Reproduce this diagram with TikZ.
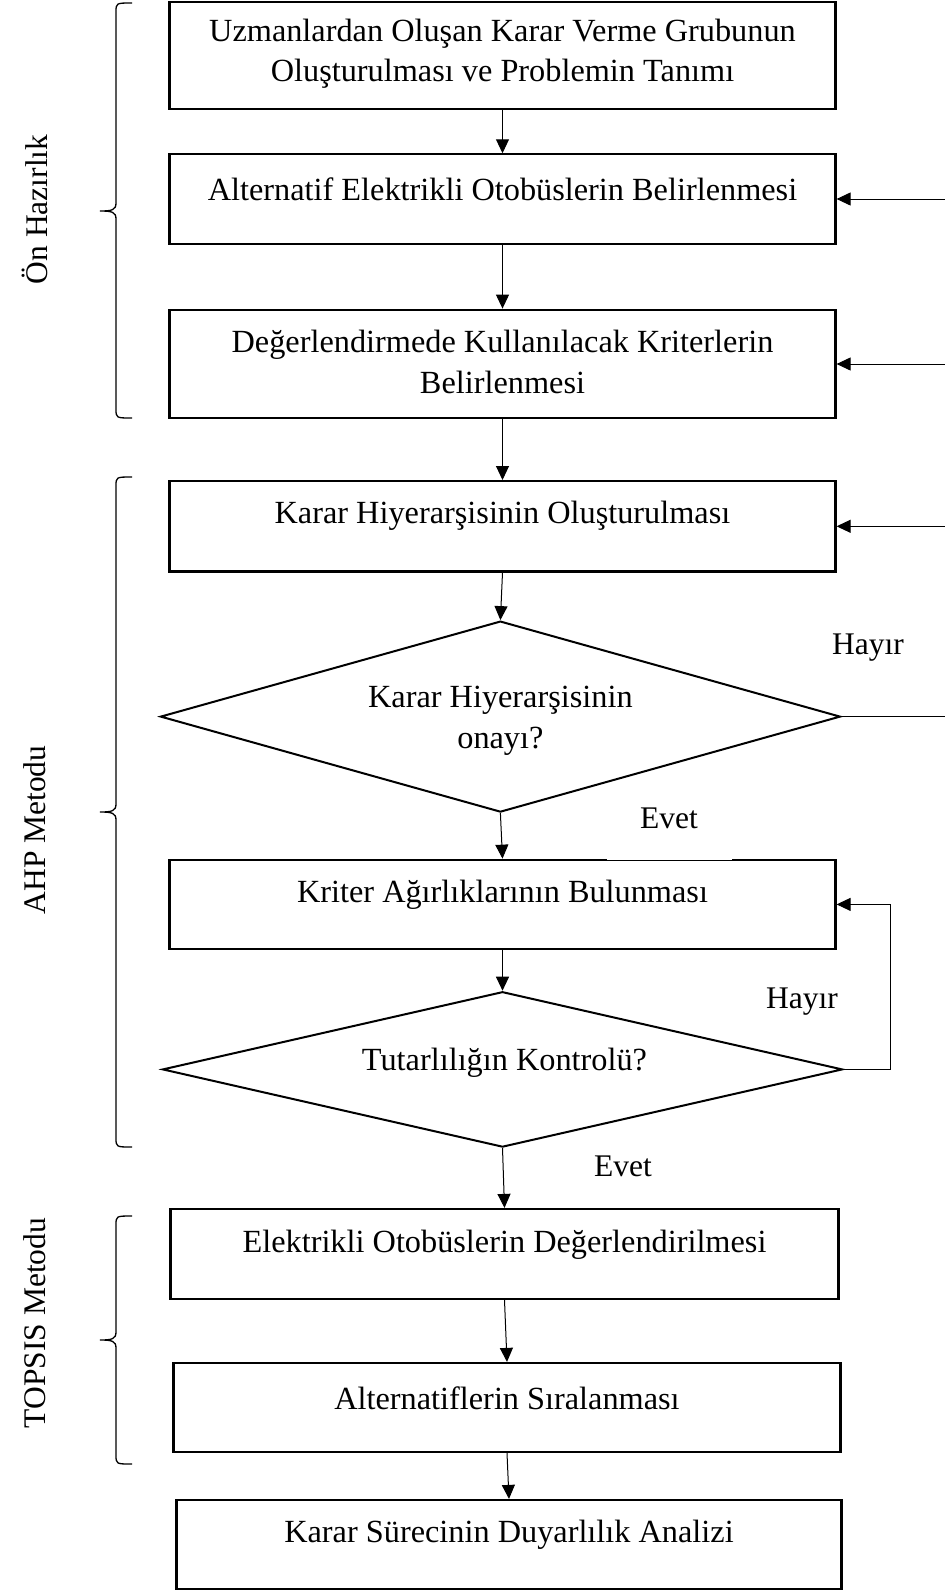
\documentclass[tikz,border=0pt]{standalone}
\usepackage{fontspec}
\setmainfont{Liberation Serif}
\usetikzlibrary{arrows.meta,shapes.geometric}

% curly brace on the left margin: top, tip and bottom heights
\newcommand{\sidebrace}[3]{%
  \draw[bracepen] (132,#1) .. controls (116,#1) .. (116,{#1+9})
    -- (116,{#2-8}) .. controls (116,{#2-1}) and (112,#2) .. (100,#2)
    .. controls (112,#2) and (116,{#2+1}) .. (116,{#2+8})
    -- (116,{#3-9}) .. controls (116,#3) .. (132,#3);}

\begin{document}
\begin{tikzpicture}[x=1pt,y=-1pt,
  txt/.style={font=\fontsize{31.5}{40.6}\selectfont, align=center, inner sep=0pt},
  boxtxt/.style={font=\fontsize{32.3}{40.6}\selectfont, align=center, inner sep=0pt},
  stepbox/.style={draw, line width=2.2pt, inner sep=0pt},
  decision/.style={draw, shape=diamond, line width=2pt, inner sep=0pt},
  flow/.style={line width=1pt, -{Triangle[width=13pt,length=14pt]}},
  link/.style={line width=1pt},
  bracepen/.style={line width=1.3pt},
  gap/.style={draw=white, line width=1.8pt}]

\useasboundingbox (0,0) rectangle (945,1591);

% process boxes and decisions
\node[stepbox, minimum width=666pt, minimum height=106.6pt] (b1) at (502.5,55.3) {};
\node[stepbox, minimum width=666pt, minimum height=89.3pt] (b2) at (502.5,199) {};
\node[stepbox, minimum width=666pt, minimum height=108.6pt] (b3) at (502.5,364) {};
\node[stepbox, minimum width=666pt, minimum height=90.4pt] (b4) at (502.5,526.3) {};
\node[decision, minimum width=680pt, minimum height=191pt] (d1) at (500.4,716.6) {};
\node[stepbox, minimum width=666pt, minimum height=89.3pt] (b5) at (502.5,904.4) {};
\node[decision, minimum width=680pt, minimum height=155.4pt] (d2) at (502.5,1069.4) {};
\node[stepbox, minimum width=668pt, minimum height=90pt] (b6) at (504.5,1254) {};
\node[stepbox, minimum width=667pt, minimum height=89pt] (b7) at (507,1407.5) {};
\node[stepbox, minimum width=665pt, minimum height=89pt] (b8) at (509,1544.5) {};

% box texts
\node[boxtxt, yshift=1.5pt] (t1) at (b1) {Uzmanlardan Oluşan Karar Verme Grubunun\\Oluşturulması ve Problemin Tanımı};
\node[boxtxt, yshift=10pt] (t2) at (b2) {Alternatif Elektrikli Otobüslerin Belirlenmesi};
\node[boxtxt, yshift=2pt] (t3) at (b3) {Değerlendirmede Kullanılacak Kriterlerin\\Belirlenmesi};
\node[boxtxt, yshift=10.5pt] (t4) at (b4) {Karar Hiyerarşisinin Oluşturulması};
\node[boxtxt, yshift=-4pt] (td1) at (d1) {Karar Hiyerarşisinin\\onayı?};
\node[boxtxt, yshift=10pt] (t5) at (b5) {Kriter Ağırlıklarının Bulunması};
\node[boxtxt, yshift=7pt, xshift=2pt] (td2) at (d2) {Tutarlılığın Kontrolü?};
\node[boxtxt, yshift=9pt] (t6) at (b6) {Elektrikli Otobüslerin Değerlendirilmesi};
\node[boxtxt, yshift=9pt] (t7) at (b7) {Alternatiflerin Sıralanması};
\node[boxtxt, yshift=10pt] (t8) at (b8) {Karar Sürecinin Duyarlılık Analizi};

% main flow
\draw[flow] (b1.south) -- (b2.north);
\draw[flow] (b2.south) -- (b3.north);
\draw[flow] (b3.south) -- (b4.north);
\draw[flow] (b4.south) -- (d1.north);
\draw[flow] (d1.south) -- (b5.north);
\draw[flow] (b5.south) -- (d2.north);
\draw[flow] (d2.south) -- (b6.north);
\draw[flow] (b6.south) -- (b7.north);
\draw[flow] (b7.south) -- (b8.north);

% feedback lines from the right margin
\coordinate (edge) at (945,0);
\coordinate (loop) at (890,0);
\draw[flow] (b2.east -| edge) -- (b2.east);
\draw[flow] (b3.east -| edge) -- (b3.east);
\draw[flow] (b4.east -| edge) -- (b4.east);
\draw[link] (d1.east) -- (d1.east -| edge);
\draw[flow] (d2.east) -- (d2.east -| loop) |- (b5.east);

% branch labels
\draw[gap] ([xshift=104.5pt]b5.north) -- ([xshift=229.5pt]b5.north);
\node[txt] (no1) at (868,648) {Hayır};
\node[txt] (yes1) at (669,818) {Evet};
\node[txt] (no2) at (802,1002) {Hayır};
\node[txt] (yes2) at (623,1166) {Evet};

% phase braces and titles
\sidebrace{3}{211}{418}
\sidebrace{477}{812}{1147}
\sidebrace{1216}{1340}{1464}
\node[txt, rotate=90] (g1) at (34.5,209.5) {Ön Hazırlık};
\node[txt, rotate=90] (g2) at (34.5,830) {AHP Metodu};
\node[txt, rotate=90] (g3) at (34.5,1323) {TOPSIS Metodu};
\end{tikzpicture}
\end{document}
